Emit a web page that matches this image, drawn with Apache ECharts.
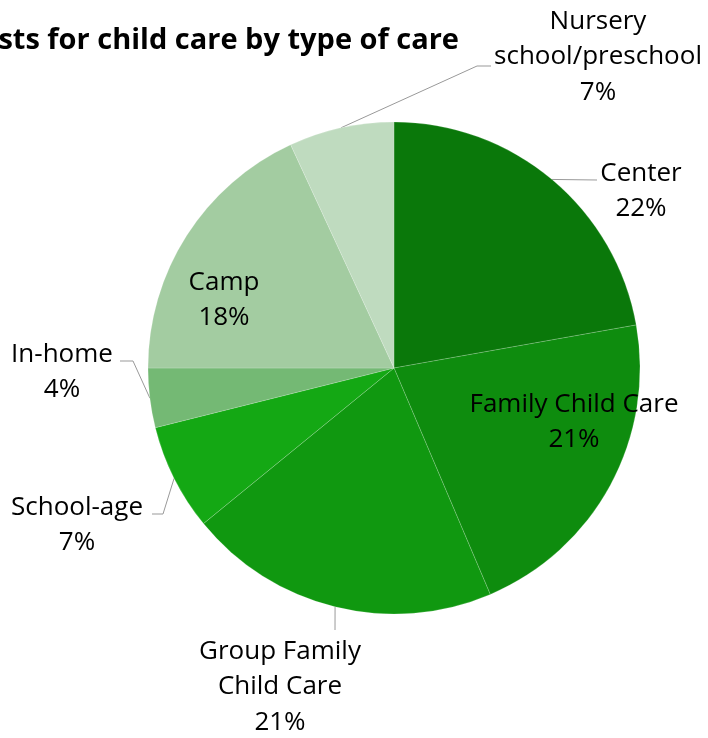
<!DOCTYPE html>
<html>
<head>
<meta charset="utf-8">
<script src="https://cdn.jsdelivr.net/npm/echarts@6/dist/echarts.min.js"></script>
<style>
html,body{margin:0;padding:0;background:#fff;}
#chart{width:708px;height:738px;}
</style>
</head>
<body>
<div id="chart"></div>
<script>
const titleText = 'Costs for child care by type of care';
const categories = ['Center', 'Family Child Care', 'Group Family Child Care', 'School-age', 'In-home', 'Camp', 'Nursery school/preschool'];
const labelNames = ['Center', 'Family Child Care', 'Group Family\nChild Care', 'School-age', 'In-home', 'Camp', 'Nursery\nschool/preschool'];
const shares = [22.2, 21.4, 20.5, 7.0, 3.9, 18.1, 6.9];
const colors = ['#0a780a', '#0e8c0e', '#109810', '#14a814', '#74b974', '#a3cca1', '#bfdbbf'];

// label placement (label block centre, optional leader line elbow and end)
const labelPlace = [
  {x: 641, y: 191, line: [[597, 180], [597, 180]]},
  {x: 574, y: 422},
  {x: 280, y: 687, line: [[335, 630], [335, 630]]},
  {x: 77, y: 525, line: [[163, 514], [152, 514]]},
  {x: 62, y: 372, line: [[133, 361], [120, 361]]},
  {x: 224, y: 300},
  {x: 598, y: 57, line: [[477, 66], [491, 66]]}
];

const chart = echarts.init(document.getElementById('chart'), null, {renderer: 'canvas'});
chart.setOption({
  animation: false,
  title: {
    text: titleText,
    right: 244,
    top: 21,
    textStyle: {fontFamily: 'Open Sans', fontWeight: 'bold', fontSize: 29, color: '#000'}
  },
  series: [{
    type: 'pie',
    center: [394, 368],
    radius: 246,
    startAngle: 90,
    clockwise: true,
    percentPrecision: 0,
    avoidLabelOverlap: false,
    itemStyle: {borderColor: 'rgba(255,255,255,0.35)', borderWidth: 0.5},
    label: {
      show: true,
      position: 'outside',
      formatter: p => labelNames[p.dataIndex] + '\n' + p.percent + '%',
      fontFamily: 'Open Sans',
      fontSize: 26,
      lineHeight: 35.5,
      color: '#000',
      align: 'center'
    },
    labelLine: {show: true, length: 10, length2: 10, lineStyle: {color: '#999', width: 1}},
    labelLayout: function (params) {
      const pl = labelPlace[params.dataIndex];
      const res = {x: pl.x, y: pl.y, align: 'center', verticalAlign: 'middle'};
      if (pl.line && params.labelLinePoints) {
        res.labelLinePoints = [params.labelLinePoints[0], pl.line[0], pl.line[1]];
      }
      return res;
    },
    data: categories.map((c, i) => ({
      name: c,
      value: shares[i],
      itemStyle: {color: colors[i]},
      labelLine: {show: !!labelPlace[i].line}
    }))
  }]
});
</script>
</body>
</html>
